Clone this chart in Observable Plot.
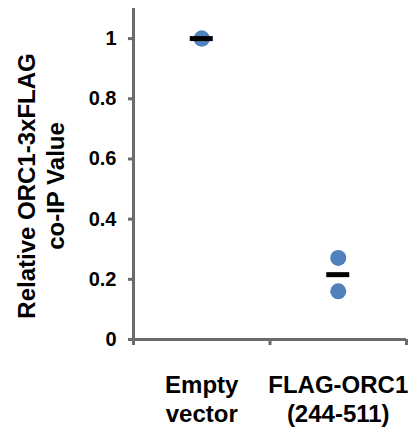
<!DOCTYPE html>
<html>
<head>
<meta charset="utf-8">
<script src="https://cdn.jsdelivr.net/npm/d3@7"></script>
<script src="https://cdn.jsdelivr.net/npm/@observablehq/plot@0.6"></script>
<style>
  html, body { margin: 0; padding: 0; background: #fff; }
</style>
</head>
<body>
<div id="chart"></div>
<script>
const categories = ["Empty vector", "FLAG-ORC1 (244-511)"];
const tickLabels = ["Empty\nvector", "FLAG-ORC1\n(244-511)"];
const emptyValues = [1, 1];
const orc1Values = [0.271, 0.160];
const yTicks = [0, 0.2, 0.4, 0.6, 0.8, 1];
const yTitle = "Relative ORC1-3xFLAG\nco-IP Value";

const seriesValues = [emptyValues, orc1Values];
const points = [];
seriesValues.forEach((vals, i) => vals.forEach(v => points.push({cat: categories[i], pos: i + 0.5, value: v})));
const means = categories.map((c, i) => ({cat: c, pos: i + 0.5, mean: d3.mean(seriesValues[i]), label: tickLabels[i]}));

const axisColor = "#6b6b6b";
const font = "'Liberation Sans', Arial, Helvetica, sans-serif";

const chart = Plot.plot({
  width: 414,
  height: 432,
  marginLeft: 133,
  marginRight: 8,
  marginTop: 8,
  marginBottom: 93,
  style: {fontFamily: font, background: "#fff", color: "#000"},
  x: {domain: [0, categories.length], axis: null},
  y: {domain: [0, 1.1], axis: null},
  marks: [
    Plot.axisY({ticks: yTicks, tickSize: 5, tickPadding: 12, tickFormat: d => String(d),
      fontSize: 20, fontWeight: "bold", stroke: axisColor, strokeWidth: 3, fill: "#000", label: null}),
    Plot.axisX({ticks: [0, 1, 2], tickSize: 6, tickFormat: () => "", stroke: axisColor, strokeWidth: 3, label: null}),
    Plot.ruleX([0], {stroke: axisColor, strokeWidth: 3}),
    Plot.ruleY([0], {stroke: axisColor, strokeWidth: 3}),
    Plot.dot(points, {x: "pos", y: "value", r: 8, fill: "#4f81bd"}),
    Plot.ruleY(means, {x1: "pos", x2: "pos", y: "mean", stroke: "#000", strokeWidth: 5, insetLeft: -11.5, insetRight: -11.5}),
    Plot.text(means, {x: "pos", y: () => 0, text: "label", dy: 34, lineAnchor: "top",
      fontSize: 24, fontWeight: "bold", lineHeight: 1.17, fill: "#000"}),
    Plot.text([yTitle], {frameAnchor: "left", dx: -93, dy: 12, rotate: -90, text: d => d,
      fontSize: 24, fontWeight: "bold", lineHeight: 1.17, textAnchor: "middle", lineAnchor: "middle", fill: "#000"})
  ]
});
document.getElementById("chart").appendChild(chart);
</script>
</body>
</html>
